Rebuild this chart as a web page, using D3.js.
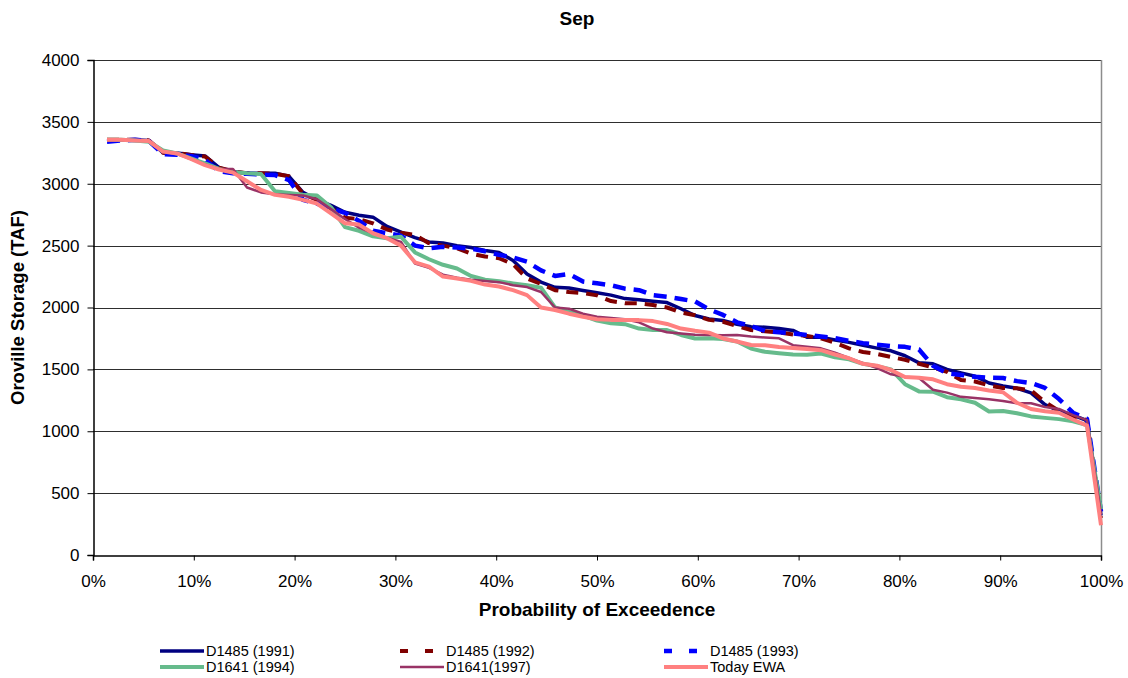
<!DOCTYPE html>
<html>
<head>
<meta charset="utf-8">
<script src="https://cdn.jsdelivr.net/npm/d3@7"></script>
<style>
  html, body { margin: 0; padding: 0; background: #fff; }
  svg { display: block; font-family: "Liberation Sans", Arial, sans-serif; }
</style>
</head>
<body>
<svg id="chart" width="1128" height="678"></svg>
<script>
// ---------- DATA ----------
const seriesNames = ["D1485 (1991)", "D1485 (1992)", "D1485 (1993)", "D1641 (1994)", "D1641(1997)", "Today EWA"];

const d1485_1991 = [3355,3355,3355,3350,3250,3248,3235,3225,3130,3100,3085,3085,3085,3060,2930,2870,2825,2770,2745,2730,
  2655,2610,2565,2530,2522,2500,2485,2460,2445,2380,2270,2205,2163,2157,2138,2120,2100,2072,2062,2050,
  2040,1990,1935,1907,1895,1865,1845,1841,1830,1815,1760,1759,1738,1718,1695,1672,1650,1610,1553,1545,
  1500,1472,1445,1390,1365,1347,1310,1215,1165,1131,1085,320];

const d1485_1992 = [3355,3355,3355,3350,3250,3248,3232,3220,3130,3100,3085,3085,3080,3060,2920,2870,2800,2725,2715,2680,
  2630,2605,2585,2520,2500,2478,2435,2412,2398,2350,2235,2190,2140,2125,2117,2098,2052,2035,2034,2020,
  2000,1960,1938,1900,1885,1850,1818,1808,1798,1782,1770,1750,1715,1670,1640,1625,1600,1578,1545,1515,
  1480,1414,1402,1370,1350,1347,1330,1235,1165,1118,1090,300];

const d1485_1993 = [3340,3350,3355,3345,3240,3235,3225,3195,3100,3085,3080,3075,3070,3030,2870,2840,2800,2765,2700,2620,
  2600,2580,2500,2478,2490,2485,2475,2455,2425,2405,2370,2300,2255,2270,2210,2196,2180,2152,2140,2100,
  2087,2068,2050,1985,1940,1880,1850,1810,1800,1790,1778,1765,1752,1730,1712,1700,1688,1682,1660,1530,
  1468,1455,1440,1432,1430,1405,1390,1350,1260,1150,1100,350];

const d1641_1994 = [3355,3355,3350,3340,3270,3245,3205,3165,3120,3095,3085,3078,2940,2925,2912,2905,2810,2650,2620,2575,
  2560,2572,2445,2390,2345,2315,2255,2225,2212,2195,2180,2160,2000,1965,1935,1895,1872,1865,1830,1818,
  1818,1778,1750,1751,1745,1725,1668,1642,1630,1620,1618,1628,1597,1582,1545,1525,1500,1380,1322,1320,
  1275,1258,1230,1160,1164,1145,1120,1108,1098,1080,1050,370];

const d1641_1997 = [3350,3355,3350,3345,3255,3245,3200,3155,3120,3120,2970,2930,2915,2910,2905,2875,2795,2715,2645,2600,
  2565,2530,2355,2320,2265,2240,2225,2215,2205,2180,2165,2125,2000,1990,1950,1926,1915,1905,1880,1830,
  1800,1790,1780,1778,1775,1778,1765,1757,1751,1695,1683,1670,1635,1592,1550,1510,1460,1440,1430,1335,
  1312,1278,1268,1258,1245,1226,1226,1196,1180,1130,1090,330];

const todayEWA = [3355,3355,3350,3345,3260,3245,3200,3150,3115,3090,3020,2950,2910,2895,2870,2840,2760,2680,2670,2600,
  2560,2500,2365,2330,2250,2235,2215,2185,2170,2140,2100,2000,1980,1950,1925,1905,1900,1900,1898,1890,
  1867,1830,1812,1797,1750,1725,1697,1695,1680,1672,1665,1655,1620,1590,1545,1530,1495,1438,1432,1420,
  1380,1360,1350,1330,1315,1230,1180,1162,1150,1095,1045,240];

const yTicks = [0, 500, 1000, 1500, 2000, 2500, 3000, 3500, 4000];
const xTicks = [0, 0.1, 0.2, 0.3, 0.4, 0.5, 0.6, 0.7, 0.8, 0.9, 1.0];

const titleText = "Sep";
const xTitle = "Probability of Exceedence";
const yTitle = "Oroville Storage (TAF)";

// ---------- STYLES ----------
const seriesValues = [d1485_1991, d1485_1992, d1485_1993, d1641_1994, d1641_1997, todayEWA];
const styles = [
  { color: "#000080", width: 3.5, dash: null },
  { color: "#800000", width: 4,   dash: "12,8" },
  { color: "#0000FF", width: 4.5, dash: "13,8" },
  { color: "#66BB8C", width: 4,   dash: null },
  { color: "#993366", width: 2.5, dash: null },
  { color: "#FF8080", width: 4,   dash: null }
];

// ---------- LAYOUT ----------
const svg = d3.select("#chart");
const pL = 93, pR = 1101, pT = 60, pB = 555;

const x = d3.scaleLinear().domain([0, 1]).range([pL, pR]);
const y = d3.scaleLinear().domain([0, 4000]).range([pB, pT]);

// exceedance probability = rank / N
const N = d1485_1991.length;
const prob = d3.range(1, N + 1).map(i => i / N);

// gridlines
svg.append("g").selectAll("line").data(yTicks.filter(v => v > 0)).join("line")
  .attr("x1", pL).attr("x2", pR)
  .attr("y1", d => Math.round(y(d)) + 0.5).attr("y2", d => Math.round(y(d)) + 0.5)
  .attr("stroke", "#2e2e2e").attr("stroke-width", 1);

// right border
svg.append("line").attr("x1", pR + 0.5).attr("x2", pR + 0.5).attr("y1", pT).attr("y2", pB)
  .attr("stroke", "#8c8c8c").attr("stroke-width", 1.5);

// series
const line = d3.line().x((d, i) => x(prob[i])).y(d => y(d));
seriesValues.forEach((vals, k) => {
  const s = styles[k];
  const p = svg.append("path").datum(vals)
    .attr("fill", "none")
    .attr("stroke", s.color)
    .attr("stroke-width", s.width)
    .attr("stroke-linejoin", "round")
    .attr("d", line);
  if (s.dash) p.attr("stroke-dasharray", s.dash);
});

// axes
const yAxis = d3.axisLeft(y).tickValues(yTicks).tickFormat(d3.format("d")).tickSize(6).tickPadding(8);
const gy = svg.append("g").attr("transform", `translate(${pL + 0.5},0)`).call(yAxis);
gy.selectAll("text").attr("font-size", 17).attr("fill", "#000").attr("font-family", "Liberation Sans, Arial, sans-serif");
gy.selectAll("line").attr("stroke", "#000");
gy.select(".domain").attr("stroke", "#000").attr("stroke-width", 1.5);

const xAxis = d3.axisBottom(x).tickValues(xTicks).tickFormat(d3.format(".0%")).tickSize(5).tickPadding(14);
const gx = svg.append("g").attr("transform", `translate(0,${pB + 0.5})`).call(xAxis);
gx.selectAll("text").attr("font-size", 17).attr("fill", "#000").attr("font-family", "Liberation Sans, Arial, sans-serif");
gx.selectAll("line").attr("stroke", "#000");
gx.select(".domain").attr("stroke", "#000").attr("stroke-width", 1.5);

// titles
svg.append("text").attr("x", 577).attr("y", 25).attr("text-anchor", "middle")
  .attr("font-size", 19).attr("font-weight", "bold").text(titleText);
svg.append("text").attr("x", (pL + pR) / 2).attr("y", 616).attr("text-anchor", "middle")
  .attr("font-size", 19).attr("font-weight", "bold").text(xTitle);
svg.append("text").attr("transform", `translate(24,${(pT + pB) / 2}) rotate(-90)`)
  .attr("text-anchor", "middle").attr("font-size", 18.5).attr("font-weight", "bold").text(yTitle);

// legend
const legCols = [160, 400, 664];
const legRows = [651, 667];
const legLen = 44;
seriesNames.forEach((name, k) => {
  const cx = legCols[k % 3], cy = legRows[Math.floor(k / 3)];
  const s = styles[k];
  const l = svg.append("line").attr("x1", cx).attr("x2", cx + legLen).attr("y1", cy).attr("y2", cy)
    .attr("stroke", s.color).attr("stroke-width", s.width);
  if (s.dash) l.attr("stroke-dasharray", "8,17");
  svg.append("text").attr("x", cx + legLen + 2).attr("y", cy).attr("dy", "0.35em")
    .attr("font-size", 14.5).text(name);
});
</script>
</body>
</html>
